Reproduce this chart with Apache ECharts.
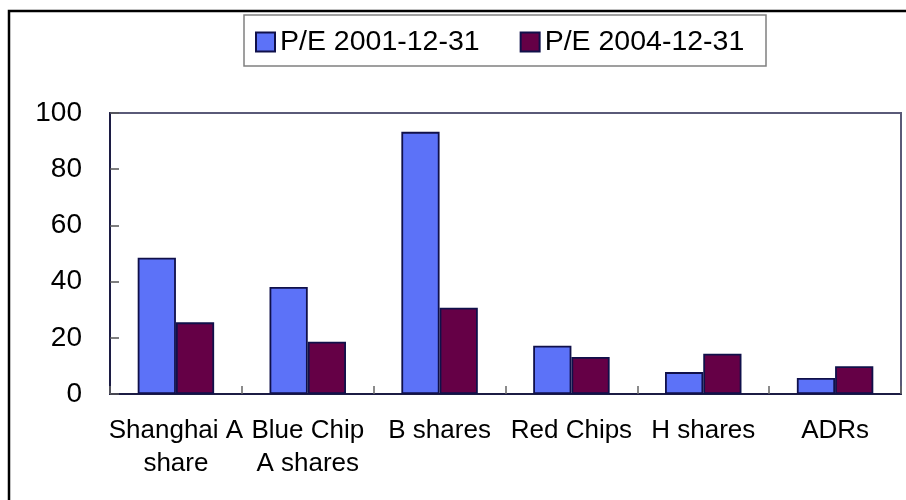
<!DOCTYPE html>
<html>
<head>
<meta charset="utf-8">
<script src="https://cdn.jsdelivr.net/npm/echarts@6/dist/echarts.min.js"></script>
<style>
  html, body { margin: 0; padding: 0; background: #ffffff; }
  #chart { width: 906px; height: 500px; }
</style>
</head>
<body>
<div id="chart"></div>
<script>
// categories and values
let categories = ['Shanghai A\nshare', 'Blue Chip\nA shares', 'B shares', 'Red Chips', 'H shares', 'ADRs'];
let pe2001 = [48.5, 38.1, 93.3, 17.2, 7.8, 5.7];
let pe2004 = [25.5, 18.6, 30.7, 13.2, 14.3, 9.9];
let seriesNames = ['P/E 2001-12-31', 'P/E 2004-12-31'];
let yTicks = [0, 100, 20]; // min, max, step

let font = "'Liberation Sans', Arial, sans-serif";

let myChart = echarts.init(document.getElementById('chart'), null, { renderer: 'canvas' });

let option = {
  animation: false,
  backgroundColor: '#ffffff',
  textStyle: { fontFamily: font },
  graphic: [
    // outer frame (only top and left visible in the picture)
    {
      type: 'rect', z: 100,
      shape: { x: 9, y: 11, width: 1200, height: 1200 },
      style: { fill: 'none', stroke: '#000000', lineWidth: 2.5 }
    },
    // legend box
    {
      type: 'rect', z: 1,
      shape: { x: 244, y: 15, width: 522, height: 51 },
      style: { fill: 'none', stroke: '#808080', lineWidth: 1.5 }
    }
  ],
  legend: {
    left: 255,
    top: 27,
    padding: 0,
    itemWidth: 19,
    itemHeight: 19,
    itemGap: 40,
    icon: 'rect',
    textStyle: { fontSize: 28.5, color: '#000000', fontFamily: font, lineHeight: 30 },
    data: seriesNames
  },
  grid: {
    left: 110,
    right: 5,
    top: 113,
    bottom: 106,
    show: true,
    borderColor: '#5a5a78',
    borderWidth: 2,
    backgroundColor: '#ffffff'
  },
  xAxis: {
    type: 'category',
    data: categories,
    boundaryGap: true,
    axisLine: { lineStyle: { color: '#1c1c44', width: 2 } },
    axisTick: { show: true, inside: true, length: 8, alignWithLabel: false, lineStyle: { color: '#666666', width: 1.5 } },
    axisLabel: {
      interval: 0,
      margin: 20,
      fontSize: 26,
      lineHeight: 33,
      color: '#000000',
      fontFamily: font
    }
  },
  yAxis: {
    type: 'value',
    min: yTicks[0],
    max: yTicks[1],
    interval: yTicks[2],
    axisLine: { show: true, lineStyle: { color: '#1c1c44', width: 2 } },
    axisTick: { show: true, inside: true, length: 9, lineStyle: { color: '#555555', width: 1.5 } },
    splitLine: { show: false },
    axisLabel: { margin: 28, fontSize: 28, color: '#000000', fontFamily: font }
  },
  series: [
    {
      name: seriesNames[0],
      type: 'bar',
      data: pe2001,
      barGap: '0%',
      barCategoryGap: '42%',
      itemStyle: { color: '#5c72f8', borderColor: '#10104a', borderWidth: 1.8 }
    },
    {
      name: seriesNames[1],
      type: 'bar',
      data: pe2004,
      barGap: '0%',
      barCategoryGap: '42%',
      itemStyle: { color: '#650046', borderColor: '#10104a', borderWidth: 1.8 }
    }
  ]
};

myChart.setOption(option, true);
window.addEventListener('resize', myChart.resize);
</script>
</body>
</html>
